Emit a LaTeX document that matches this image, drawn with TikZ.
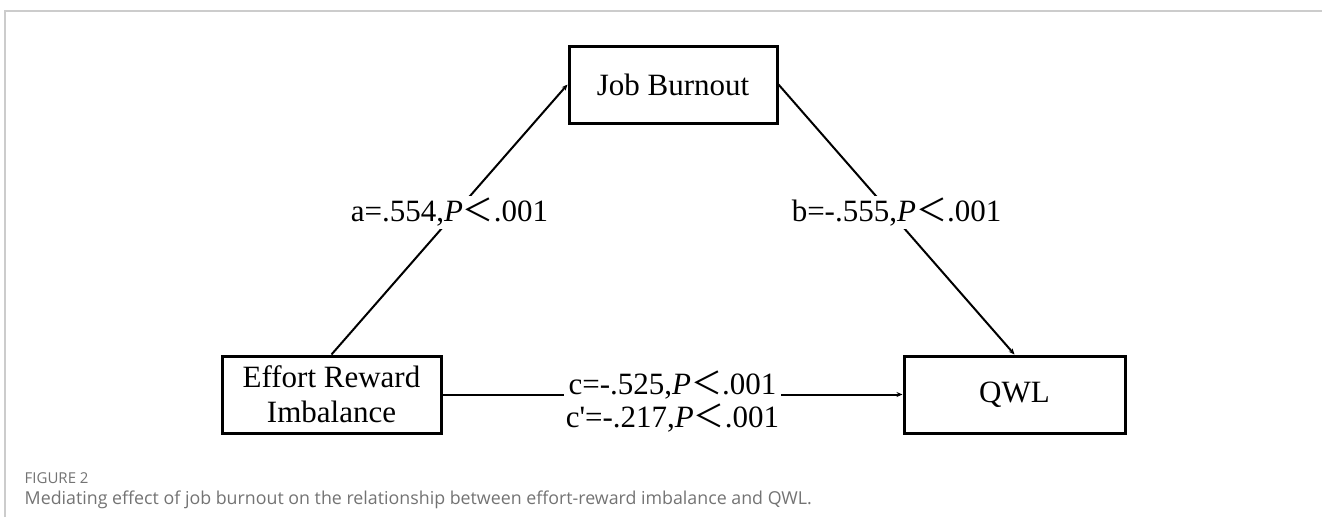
\documentclass[tikz,border=0pt]{standalone}
\usepackage{fontspec}
\setmainfont{Liberation Serif}
\newfontfamily\capfont{Open Sans}
\newfontfamily\cjkfont{Noto Sans CJK SC}
\usetikzlibrary{arrows.meta}
\newcommand{\ltsign}{{\cjkfont ＜}}
\begin{document}
\begin{tikzpicture}[x=1pt, y=-1pt, thick]
\tikzstyle{block} = [draw,rectangle,line width=3pt,minimum height=77pt,align=center,font=\fontsize{31}{35}\selectfont]
\tikzstyle{coef} = [fill=white,inner sep=2pt,align=center,font=\fontsize{31}{33}\selectfont]
\tikzstyle{connector} = [-{Stealth[length=6pt,width=5pt]},line width=2pt]
\useasboundingbox (0,0) rectangle (1322,517);
\draw[black!20, line width=1.5pt] (5,517) -- (5,11) -- (1322,11);

\node[block, minimum width=208pt](jb) at (673,84.5) {Job Burnout};
\node[block, minimum width=219pt](eri) at (331.5,394.5) {Effort Reward\\Imbalance};
\node[block, minimum width=221pt](qwl) at (1014.5,394.5) {QWL};

\draw [connector] (eri.north) -- node[coef, yshift=7pt] {a=.554,\textit{P}\ltsign.001} (jb.west);
\draw [connector] (jb.east) -- node[coef, yshift=7pt] {b=-.555,\textit{P}\ltsign.001} (qwl.north);
\draw [connector] (eri) -- node[coef, yshift=-7pt] {c=-.525,\textit{P}\ltsign.001\\c\textquotesingle=-.217,\textit{P}\ltsign.001} (qwl);

\node[anchor=west, text=black!55, font=\capfont\fontsize{15}{17}\selectfont] (fig) at (21,478) {FIGURE 2};
\node[anchor=west, text=black!55, font=\capfont\fontsize{17.8}{20}\selectfont] (cap) at (21,500) {Mediating effect of job burnout on the relationship between effort-reward imbalance and QWL.};
\end{tikzpicture}
\end{document}
